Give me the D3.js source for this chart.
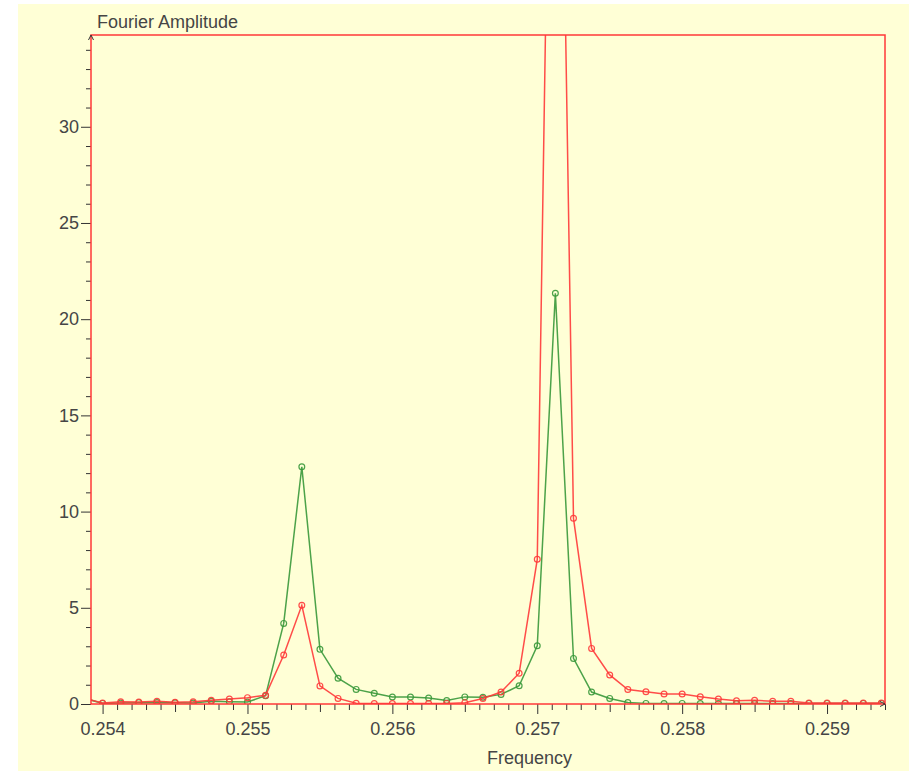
<!DOCTYPE html>
<html>
<head>
<meta charset="utf-8">
<script src="https://cdn.jsdelivr.net/npm/d3@7"></script>
<style>
  html, body { margin: 0; padding: 0; background: #ffffff; }
  svg { display: block; font-family: "Liberation Sans", Arial, sans-serif; }
</style>
</head>
<body>
<svg id="chart" width="909" height="771"></svg>
<script>
// ---- Data ----
const frequency = [
  0.253875, 0.254, 0.254125, 0.25425, 0.254375, 0.2545, 0.254625, 0.25475, 0.254875,
  0.255, 0.255125, 0.25525, 0.255375, 0.2555, 0.255625, 0.25575, 0.255875,
  0.256, 0.256125, 0.25625, 0.256375, 0.2565, 0.256625, 0.25675, 0.256875,
  0.257, 0.257125, 0.25725, 0.257375, 0.2575, 0.257625, 0.25775, 0.257875,
  0.258, 0.258125, 0.25825, 0.258375, 0.2585, 0.258625, 0.25875, 0.258875,
  0.259, 0.259125, 0.25925, 0.259375
];
const redAmplitude = [
  0.30, 0.05, 0.12, 0.10, 0.14, 0.09, 0.12, 0.19, 0.26,
  0.33, 0.45, 2.55, 5.13, 0.94, 0.29, 0.04, 0.02,
  0.02, 0.02, 0.02, 0.03, 0.07, 0.29, 0.62, 1.60,
  7.52, 68.0, 9.65, 2.89, 1.51, 0.75, 0.64, 0.52,
  0.52, 0.38, 0.26, 0.17, 0.19, 0.14, 0.14, 0.05,
  0.05, 0.05, 0.05, 0.05
];
const greenAmplitude = [
  0.30, 0.03, 0.05, 0.07, 0.08, 0.06, 0.05, 0.14, 0.12,
  0.10, 0.43, 4.19, 12.33, 2.84, 1.34, 0.76, 0.56,
  0.36, 0.36, 0.31, 0.18, 0.37, 0.35, 0.50, 0.95,
  3.03, 21.35, 2.37, 0.62, 0.29, 0.08, 0.03, 0.02,
  0.03, 0.02, 0.02, 0.02, 0.02, 0.02, 0.02, 0.03,
  0.03, 0.03, 0.03, 0.03
];
const xTickLabels = ["0.254", "0.255", "0.256", "0.257", "0.258", "0.259"];
const yTickLabels = ["0", "5", "10", "15", "20", "25", "30"];
const xLabel = "Frequency";
const yLabel = "Fourier Amplitude";

// ---- Layout ----
const svg = d3.select("#chart");
const L = 91, R = 885, T = 35, B = 704;
const bg = "#ffffd6";
const redC = "#ff3838", greenC = "#38983a", tickC = "#333333", textC = "#454545";

svg.append("rect").attr("x", 18).attr("y", 4).attr("width", 909 - 18).attr("height", 771 - 4).attr("fill", bg);

const x = d3.scaleLinear().domain([0.25392, 0.2594]).range([L, R]);
const y = d3.scaleLinear().domain([0, 34.77]).range([B, T]);

svg.append("defs").append("clipPath").attr("id", "plotclip")
  .append("rect").attr("x", L).attr("y", T).attr("width", R - L).attr("height", B - T);

// Minor ticks
const xMinor = d3.range(2540, 2595).map(i => i / 10000);
svg.append("g").attr("transform", `translate(0,${B})`)
  .call(d3.axisBottom(x).tickValues(xMinor.filter(v => Math.round(v * 10000) % 10 !== 0))
    .tickSize(6).tickFormat(""))
  .call(g => g.select(".domain").remove())
  .call(g => g.selectAll(".tick line").attr("stroke", tickC)
    .attr("y2", d => Math.round(d * 10000) % 5 === 0 ? 8 : 6));

const yMinor = d3.range(0, 35).filter(v => v % 5 !== 0);
svg.append("g").attr("transform", `translate(${L},0)`)
  .call(d3.axisLeft(y).tickValues(yMinor).tickSize(5).tickFormat(""))
  .call(g => g.select(".domain").remove())
  .call(g => g.selectAll(".tick line").attr("stroke", tickC));

// Major ticks + labels
svg.append("g").attr("transform", `translate(0,${B})`)
  .call(d3.axisBottom(x).tickValues(xTickLabels.map(Number)).tickSize(10).tickPadding(8)
    .tickFormat((d, i) => xTickLabels[i]))
  .call(g => g.select(".domain").remove())
  .call(g => g.selectAll(".tick line").attr("stroke", tickC))
  .call(g => g.selectAll(".tick text").attr("fill", textC).attr("font-size", 18)
    .attr("font-family", "Liberation Sans, Arial, sans-serif"));

svg.append("g").attr("transform", `translate(${L},0)`)
  .call(d3.axisLeft(y).tickValues(yTickLabels.map(Number)).tickSize(10).tickPadding(2)
    .tickFormat((d, i) => yTickLabels[i]))
  .call(g => g.select(".domain").remove())
  .call(g => g.selectAll(".tick line").attr("stroke", tickC))
  .call(g => g.selectAll(".tick text").attr("fill", textC).attr("font-size", 18)
    .attr("font-family", "Liberation Sans, Arial, sans-serif"));

// Series
const plot = svg.append("g").attr("clip-path", "url(#plotclip)");
function drawSeries(vals, color) {
  const pts = frequency.map((f, i) => [f, vals[i]]);
  plot.append("path").datum(pts)
    .attr("fill", "none").attr("stroke", color).attr("stroke-width", 1.5).attr("stroke-opacity", 0.9)
    .attr("d", d3.line().x(d => x(d[0])).y(d => y(d[1])));
  plot.append("g").selectAll("circle").data(pts).join("circle")
    .attr("cx", d => x(d[0])).attr("cy", d => y(d[1])).attr("r", 2.9)
    .attr("fill", "none").attr("stroke", color).attr("stroke-width", 1.2).attr("stroke-opacity", 0.9);
}
drawSeries(greenAmplitude, greenC);
drawSeries(redAmplitude, redC);

// Frame
svg.append("rect").attr("x", L).attr("y", T).attr("width", R - L).attr("height", B - T)
  .attr("fill", "none").attr("stroke", redC).attr("stroke-width", 1.5);

// Arrowheads
svg.append("path").attr("d", `M${L - 2.5},${T + 5} L${L},${T} L${L + 2.5},${T + 5}`)
  .attr("fill", "none").attr("stroke", tickC).attr("stroke-width", 1);
svg.append("path").attr("d", `M${R - 5},${B - 2.5} L${R},${B} L${R - 5},${B + 2.5}`)
  .attr("fill", "none").attr("stroke", tickC).attr("stroke-width", 1);

// Axis titles
svg.append("text").attr("x", 97).attr("y", 28).attr("fill", textC)
  .attr("font-size", 18).text(yLabel);
svg.append("text").attr("x", 487).attr("y", 764).attr("fill", textC)
  .attr("font-size", 18).text(xLabel);
</script>
</body>
</html>
